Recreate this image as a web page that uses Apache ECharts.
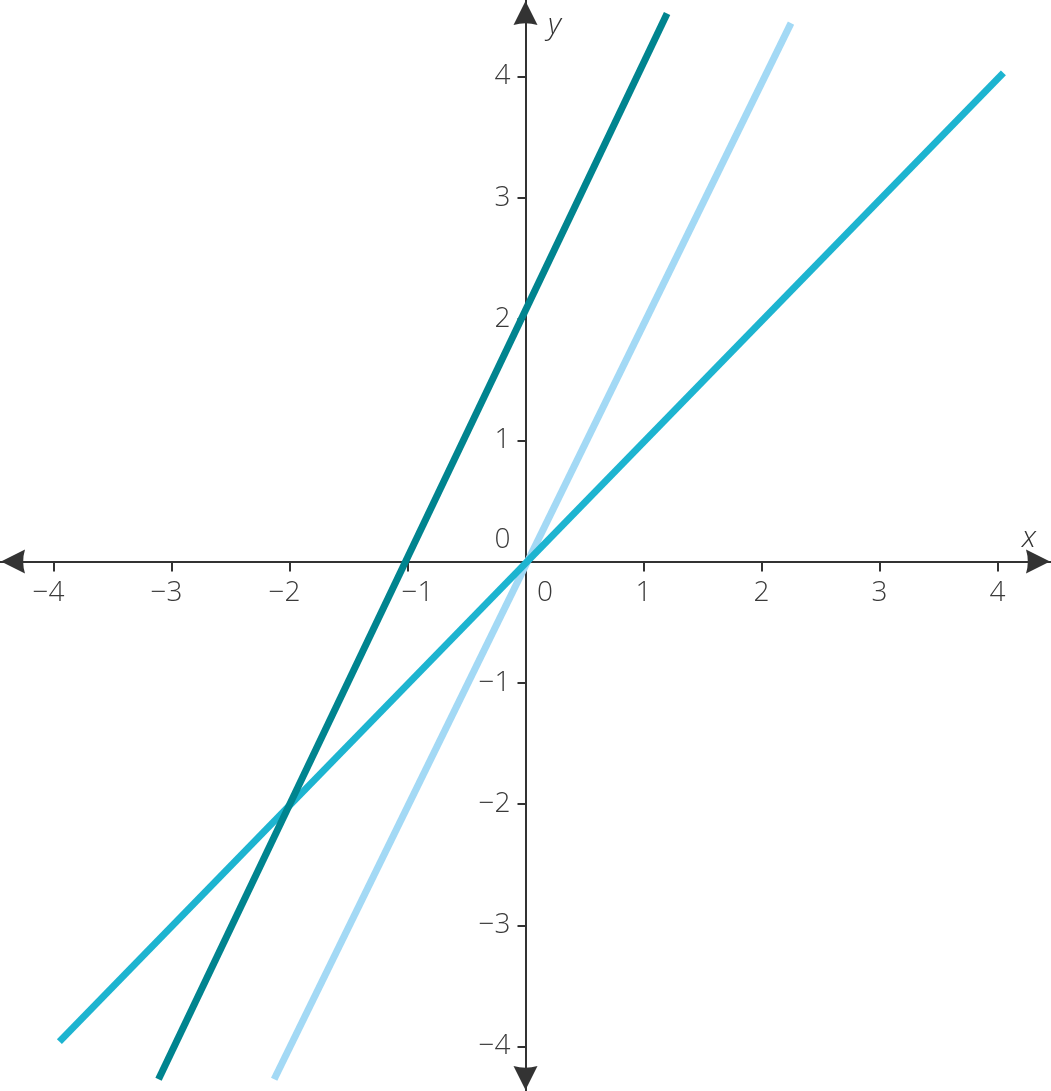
<!DOCTYPE html>
<html>
<head>
<meta charset="utf-8">
<script src="https://cdn.jsdelivr.net/npm/echarts@6/dist/echarts.min.js"></script>
<style>
html,body{margin:0;padding:0;background:#fff;}
#chart{width:1051px;height:1091px;}
</style>
</head>
<body>
<div id="chart"></div>
<script>
// Tick values
const xTicks = [-4, -3, -2, -1, 0, 1, 2, 3, 4];
const yTicks = [-4, -3, -2, -1, 0, 1, 2, 3, 4];
// Line endpoints
const lineDark = [[-3.11, -4.27], [1.2, 4.52]];   // y = 2x + 2
const lineLight = [[-2.13, -4.27], [2.25, 4.44]]; // y = 2x
const lineCyan = [[-3.95, -3.96], [4.05, 4.03]];  // y = x

const FONT = "'Open Sans', 'Noto Sans', sans-serif";
const AXIS = '#333333';
const LABEL = '#3a3a3a';

const X_MIN = -4.4534, X_MAX = 4.4534;
const Y_MIN = -4.367, Y_MAX = 4.631;
const W = 1051, H = 1091;

const ARROW = 'path://M0,-10 L10,10 Q0,7 -10,10 Z';

const chart = echarts.init(document.getElementById('chart'), null, {renderer: 'canvas'});

function minus(v) { return v < 0 ? '\u2212' + (-v) : String(v); }

// axis offsets so that the axes cross at the origin
const xAxisOffset = -(H * (0 - Y_MIN) / (Y_MAX - Y_MIN));
const yAxisOffset = -(W * (0 - X_MIN) / (X_MAX - X_MIN));

const option = {
  animation: false,
  backgroundColor: '#ffffff',
  grid: {left: 0, right: 0, top: 0, bottom: 0, containLabel: false, outerBoundsMode: 'none'},
  xAxis: {
    type: 'value',
    position: 'bottom',
    offset: xAxisOffset,
    min: X_MIN,
    max: X_MAX,
    splitLine: {show: false},
    axisLine: {
      onZero: false,
      symbol: [ARROW, ARROW],
      symbolSize: [26, 24],
      symbolOffset: [13, -13],
      lineStyle: {color: AXIS, width: 2}
    },
    axisTick: {
      show: true,
      customValues: xTicks.filter(v => v !== 0),
      length: 10,
      lineStyle: {color: AXIS, width: 2}
    },
    axisLabel: {
      customValues: xTicks,
      margin: 18,
      hideOverlap: false,
      color: LABEL,
      fontFamily: FONT,
      fontWeight: 300,
      fontSize: 28,
      formatter: function (v) {
        if (v === 0) return '{z|0}';
        if (v === -1) return '{m1|' + minus(v) + '}';
        if (v < 0) return '{neg|' + minus(v) + '}';
        return '{pos|' + v + '}';
      },
      rich: {
        z: {padding: [0, 0, 0, 39], fontFamily: FONT, fontWeight: 300, fontSize: 28, color: LABEL},
        m1: {padding: [0, 0, 0, 20], fontFamily: FONT, fontWeight: 300, fontSize: 28, color: LABEL},
        neg: {padding: [0, 10, 0, 0], fontFamily: FONT, fontWeight: 300, fontSize: 28, color: LABEL},
        pos: {fontFamily: FONT, fontWeight: 300, fontSize: 28, color: LABEL}
      }
    }
  },
  yAxis: {
    type: 'value',
    position: 'left',
    offset: yAxisOffset,
    min: Y_MIN,
    max: Y_MAX,
    splitLine: {show: false},
    axisLine: {
      onZero: false,
      symbol: [ARROW, ARROW],
      symbolSize: [26, 24],
      symbolOffset: [13, -13],
      lineStyle: {color: AXIS, width: 2}
    },
    axisTick: {
      show: true,
      customValues: yTicks.filter(v => v !== 0),
      length: 8,
      lineStyle: {color: AXIS, width: 2}
    },
    axisLabel: {
      customValues: yTicks,
      margin: 15,
      hideOverlap: false,
      color: LABEL,
      fontFamily: FONT,
      fontWeight: 300,
      fontSize: 28,
      formatter: function (v) {
        if (v === 0) return '{z|0}';
        return '{n|' + minus(v) + '}';
      },
      rich: {
        z: {padding: [0, 0, 43, 0], fontFamily: FONT, fontWeight: 300, fontSize: 28, color: LABEL},
        n: {fontFamily: FONT, fontWeight: 300, fontSize: 28, color: LABEL}
      }
    }
  },
  graphic: [
    {type: 'text', left: 1022, top: 523, style: {text: 'x', font: 'italic 300 30px ' + FONT, fill: '#333'}},
    {type: 'text', left: 548, top: 10, style: {text: 'y', font: 'italic 300 30px ' + FONT, fill: '#333'}}
  ],
  series: [
    {type: 'line', data: lineLight, showSymbol: false, clip: false, lineStyle: {color: '#a3d9f5', width: 7, cap: 'butt'}, z: 3},
    {type: 'line', data: lineCyan, showSymbol: false, clip: false, lineStyle: {color: '#1db4d0', width: 7, cap: 'butt'}, z: 4},
    {type: 'line', data: lineDark, showSymbol: false, clip: false, lineStyle: {color: '#00848f', width: 7, cap: 'butt'}, z: 5}
  ]
};
chart.setOption(option);
</script>
</body>
</html>
